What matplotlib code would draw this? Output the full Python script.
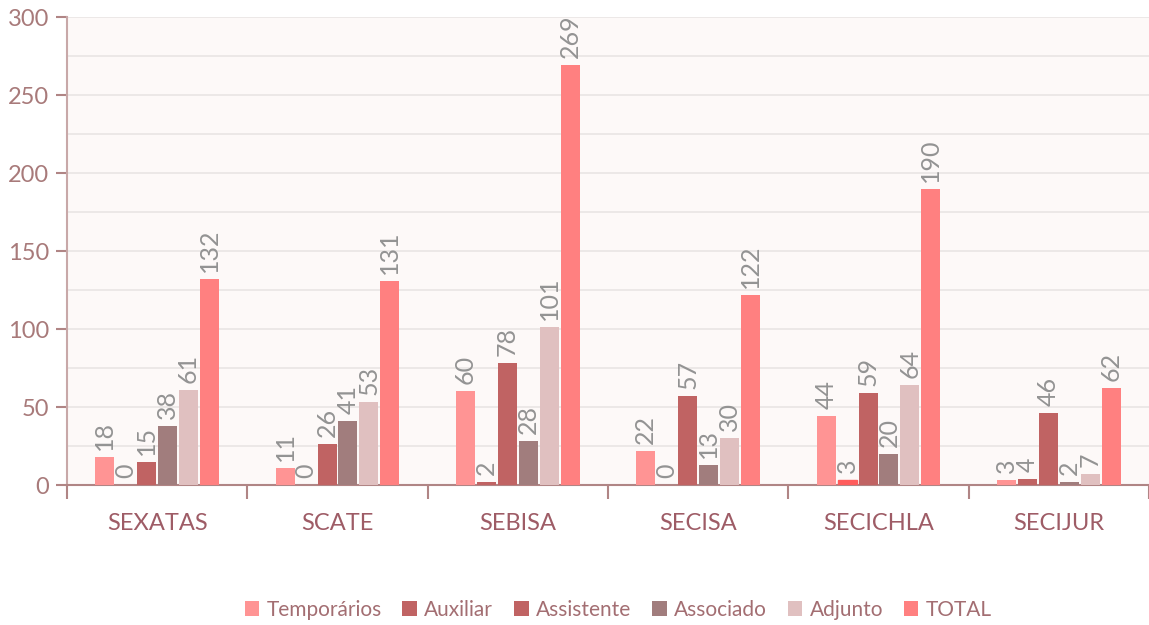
import numpy as np
import matplotlib
matplotlib.use('Agg')
import matplotlib.pyplot as plt

plt.rcParams['font.family'] = ['Lato', 'DejaVu Sans']

categories = ['SEXATAS', 'SCATE', 'SEBISA', 'SECISA', 'SECICHLA', 'SECIJUR']
series_names = ['Temporários', 'Auxiliar', 'Assistente', 'Associado', 'Adjunto', 'TOTAL']
temporarios = [18, 11, 60, 22, 44, 3]
auxiliar = [0, 0, 2, 0, 3, 4]
assistente = [15, 26, 78, 57, 59, 46]
associado = [38, 41, 28, 13, 20, 2]
adjunto = [61, 53, 101, 30, 64, 7]
total = [132, 131, 269, 122, 190, 62]

colors = ['#ff9494', '#c06363', '#c06363', '#a17d7d', '#e0c0c0', '#ff8080']
series = [temporarios, auxiliar, assistente, associado, adjunto, total]

fig = plt.figure(figsize=(11.49, 6.25), dpi=100)
ax = fig.add_axes([67/1149, 140/625, 1082/1149, 468/625])
ax.set_facecolor('#fdf9f8')

x = np.arange(len(categories))
step = 0.116
width = 0.105
for i, (vals, col) in enumerate(zip(series, colors)):
    pos = x + (i - 2.5) * step
    bars = ax.bar(pos, vals, width=width, color=col, label=series_names[i], zorder=3)
    # hovered bar in the reference shows brighter
    if series_names[i] == 'Auxiliar':
        bars[4].set_color('#ff5c5c')
    for p, v in zip(pos, vals):
        ax.annotate(str(v), (p, v), xytext=(0, 5), textcoords='offset points',
                    rotation=90, ha='center', va='bottom',
                    fontsize=18, color='#939393', zorder=4)

ax.set_xlim(-0.5, 5.47)
ax.set_ylim(0, 300)
ax.set_yticks(np.arange(0, 301, 50))
ax.set_yticks(np.arange(0, 301, 25), minor=True)
ax.grid(True, axis='y', which='both', color='#e9e5e4', linewidth=1.2, zorder=0)
ax.tick_params(axis='y', which='minor', length=0)
ax.tick_params(axis='y', which='major', length=8, width=1.5, color='#b08585',
               labelcolor='#a87a7a', labelsize=17, pad=5)

ax.set_xticks(x)
ax.set_xticklabels(categories)
ax.tick_params(axis='x', which='major', length=0, labelcolor='#9e5c66', labelsize=17, pad=20)
ax.set_xticks(np.arange(-0.5, 6, 1), minor=True)
ax.tick_params(axis='x', which='minor', length=10, width=1.5, color='#b08585')

for s in ['top', 'right']:
    ax.spines[s].set_visible(False)
ax.spines['left'].set_color('#c8a8a8')
ax.spines['left'].set_linewidth(1.5)
ax.spines['bottom'].set_color('#b08585')
ax.spines['bottom'].set_linewidth(1.5)

handles, labels = ax.get_legend_handles_labels()
leg = fig.legend(handles, labels, loc='center', bbox_to_anchor=(0.538, 1 - 610/625), ncol=6,
                 frameon=False, fontsize=15, handlelength=0.7, handleheight=0.7,
                 handletextpad=0.35, columnspacing=1.0)
for t in leg.get_texts():
    t.set_color('#a36e72')

fig.savefig('out.png', dpi=100)
